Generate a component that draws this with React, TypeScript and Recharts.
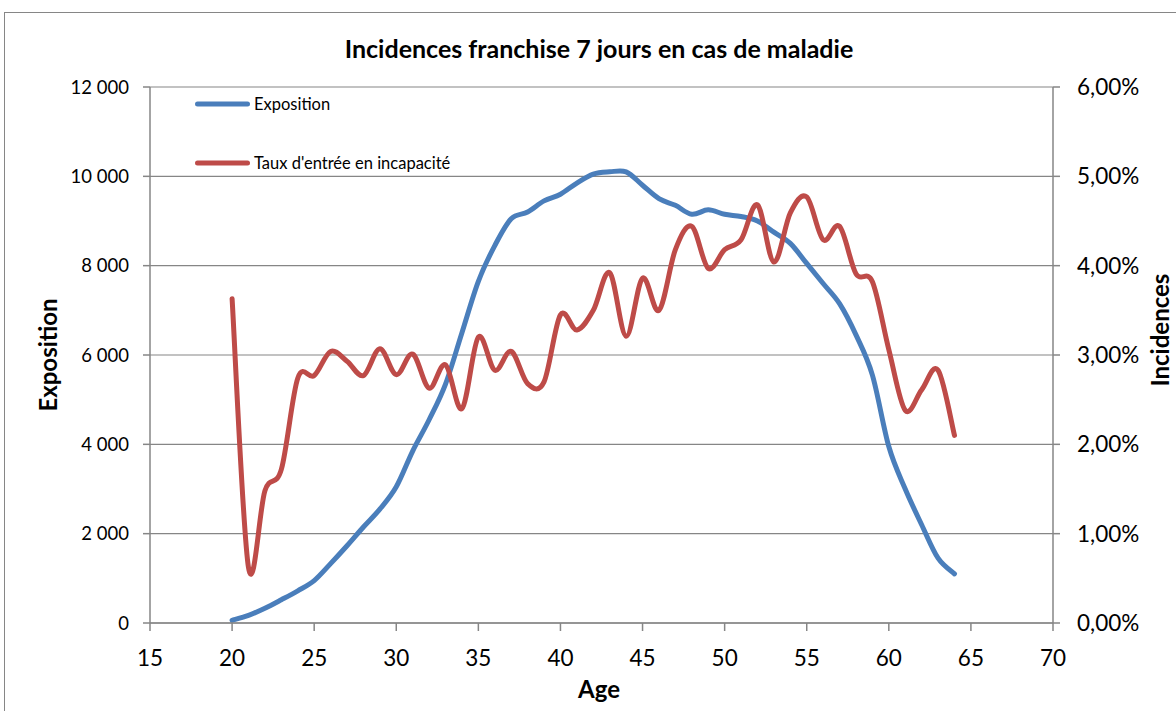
import { CartesianGrid, Label, Legend, Line, LineChart, XAxis, YAxis } from "recharts";

const ages = [
  20, 21, 22, 23, 24, 25, 26, 27, 28, 29, 30, 31, 32, 33, 34, 35, 36, 37, 38, 39, 40, 41, 42,
  43, 44, 45, 46, 47, 48, 49, 50, 51, 52, 53, 54, 55, 56, 57, 58, 59, 60, 61, 62, 63, 64,
];

const exposition = [
  60, 170, 330, 520, 720, 950, 1330, 1730, 2150, 2550, 3050, 3850, 4550, 5350, 6500, 7650,
  8450, 9050, 9200, 9450, 9600, 9850, 10050, 10100, 10100, 9800, 9500, 9350, 9150, 9250, 9150,
  9100, 9000, 8750, 8500, 8050, 7600, 7150, 6450, 5550, 3950, 3000, 2200, 1450, 1100,
];

// taux d'entrée en incapacité, en %
const incidence = [
  3.63, 0.62, 1.48, 1.72, 2.74, 2.77, 3.04, 2.93, 2.77, 3.07, 2.78, 3.01, 2.63, 2.89, 2.4, 3.2,
  2.83, 3.04, 2.68, 2.7, 3.45, 3.28, 3.5, 3.92, 3.21, 3.86, 3.5, 4.18, 4.44, 3.97, 4.18, 4.29,
  4.68, 4.04, 4.59, 4.77, 4.29, 4.44, 3.91, 3.82, 3.06, 2.38, 2.61, 2.83, 2.1,
];

const xTicks = [15, 20, 25, 30, 35, 40, 45, 50, 55, 60, 65, 70];
const expoTicks = [0, 2000, 4000, 6000, 8000, 10000, 12000];
const incTicks = [0, 1, 2, 3, 4, 5, 6];

const data = ages.map((age, i) => ({
  age,
  exposition: exposition[i],
  incidence: incidence[i],
}));

const BLUE = "#4A7EBB";
const RED = "#BE4B48";
const GREY = "#868686";
const FONT = "Lato, 'Open Sans', sans-serif";

// lissage façon Excel (catmull-rom)
function excelSmooth(context: any) {
  let pts: number[][] = [];
  return {
    areaStart() {},
    areaEnd() {},
    lineStart() {
      pts = [];
    },
    point(x: number, y: number) {
      pts.push([+x, +y]);
    },
    lineEnd() {
      const n = pts.length;
      if (!n) return;
      context.moveTo(pts[0][0], pts[0][1]);
      for (let i = 0; i < n - 1; i++) {
        const p0 = pts[i - 1] ?? pts[i];
        const p1 = pts[i];
        const p2 = pts[i + 1];
        const p3 = pts[i + 2] ?? p2;
        context.bezierCurveTo(
          p1[0] + (p2[0] - p0[0]) / 6,
          p1[1] + (p2[1] - p0[1]) / 6,
          p2[0] - (p3[0] - p1[0]) / 6,
          p2[1] - (p3[1] - p1[1]) / 6,
          p2[0],
          p2[1]
        );
      }
    },
  };
}

const fmtThousands = (v: number) => String(v).replace(/\B(?=(\d{3})+(?!\d))/g, " ");
const fmtPct = (v: number) => v.toFixed(2).replace(".", ",") + "%";

function LegendBox() {
  return (
    <svg width={300} height={90} style={{ display: "block" }}>
      <line x1={2.5} y1={12} x2={52.5} y2={12} stroke={BLUE} strokeWidth={5} strokeLinecap="round" />
      <text x={59} y={18} fontSize={16.5} fontFamily={FONT} fill="#000">
        Exposition
      </text>
      <line x1={2.5} y1={71} x2={52.5} y2={71} stroke={RED} strokeWidth={5} strokeLinecap="round" />
      <text x={59} y={77} fontSize={16.5} fontFamily={FONT} fill="#000">
        Taux d'entrée en incapacité
      </text>
    </svg>
  );
}

export default function App() {
  return (
    <div
      style={{
        position: "absolute",
        left: 0,
        top: 0,
        width: 1176,
        height: 711,
        overflow: "hidden",
        background: "#fff",
        fontFamily: FONT,
      }}
    >
      <div
        style={{
          position: "absolute",
          left: 4,
          top: 12,
          width: 1200,
          height: 740,
          border: `1.5px solid ${GREY}`,
        }}
      />
      <div
        style={{
          position: "absolute",
          left: 0,
          width: 1198,
          top: 36,
          textAlign: "center",
          fontSize: 25,
          lineHeight: "25px",
          fontWeight: 700,
          color: "#000",
        }}
      >
        Incidences franchise 7 jours en cas de maladie
      </div>
      <div style={{ position: "absolute", left: 0, top: 0 }}>
        <LineChart
          width={1176}
          height={711}
          data={data}
          margin={{ top: 87, right: 23, bottom: 38, left: 50 }}
        >
          <CartesianGrid yAxisId="left" vertical={false} stroke={GREY} strokeWidth={1.2} />
          <XAxis
            dataKey="age"
            type="number"
            domain={[15, 70]}
            ticks={xTicks}
            interval={0}
            height={50}
            stroke={GREY}
            strokeWidth={1.5}
            tickSize={8}
            tickMargin={19}
            tick={{ fontSize: 22.5, fill: "#000", fontFamily: FONT }}
          >
            <Label
              content={() => (
                <text x={599} y={698} textAnchor="middle" fontSize={24} fontWeight={700} fontFamily={FONT} fill="#000">
                  Age
                </text>
              )}
            />
          </XAxis>
          <YAxis
            yAxisId="left"
            domain={[0, 12000]}
            ticks={expoTicks}
            interval={0}
            width={100}
            stroke={GREY}
            strokeWidth={1.5}
            tickSize={7}
            tickMargin={14}
            tickFormatter={fmtThousands}
            tick={{ fontSize: 18.5, fill: "#000", fontFamily: FONT }}
          >
            <Label
              content={() => (
                <text
                  x={57}
                  y={355}
                  transform="rotate(-90 57 355)"
                  textAnchor="middle"
                  fontSize={24}
                  fontWeight={700}
                  fontFamily={FONT}
                  fill="#000"
                >
                  Exposition
                </text>
              )}
            />
          </YAxis>
          <YAxis
            yAxisId="right"
            orientation="right"
            domain={[0, 6]}
            ticks={incTicks}
            interval={0}
            width={100}
            stroke={GREY}
            strokeWidth={1.5}
            tickSize={7}
            tickMargin={17}
            tickFormatter={fmtPct}
            tick={{ fontSize: 22.5, fill: "#000", fontFamily: FONT, textAnchor: "start" }}
          >
            <Label
              content={() => (
                <text
                  x={1169}
                  y={330}
                  transform="rotate(-90 1169 330)"
                  textAnchor="middle"
                  fontSize={24}
                  fontWeight={700}
                  fontFamily={FONT}
                  fill="#000"
                >
                  Incidences
                </text>
              )}
            />
          </YAxis>
          <Legend
            layout="vertical"
            align="center"
            verticalAlign="middle"
            wrapperStyle={{ left: 195, top: 92, width: 300, height: 90 }}
            content={() => <LegendBox />}
          />
          <Line
            yAxisId="left"
            dataKey="exposition"
            name="Exposition"
            type={excelSmooth as any}
            stroke={BLUE}
            strokeWidth={5}
            strokeLinecap="round"
            dot={false}
            activeDot={false}
            isAnimationActive={false}
          />
          <Line
            yAxisId="right"
            dataKey="incidence"
            name="Taux d'entrée en incapacité"
            type={excelSmooth as any}
            stroke={RED}
            strokeWidth={5}
            strokeLinecap="round"
            dot={false}
            activeDot={false}
            isAnimationActive={false}
          />
        </LineChart>
      </div>
    </div>
  );
}
